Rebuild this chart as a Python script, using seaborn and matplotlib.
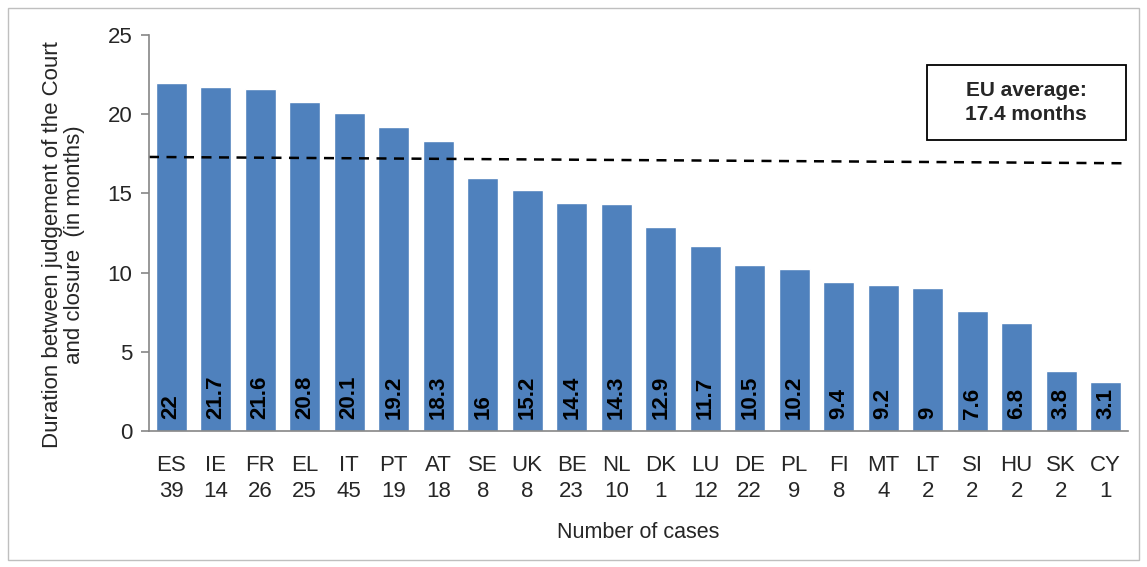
import matplotlib
matplotlib.use("Agg")
import matplotlib.pyplot as plt
import numpy as np
import pandas as pd
import seaborn as sns
from matplotlib.patches import Rectangle

# data
countries = ["ES", "IE", "FR", "EL", "IT", "PT", "AT", "SE", "UK", "BE", "NL",
             "DK", "LU", "DE", "PL", "FI", "MT", "LT", "SI", "HU", "SK", "CY"]
cases = [39, 14, 26, 25, 45, 19, 18, 8, 8, 23, 10, 1, 12, 22, 9, 8, 4, 2, 2, 2, 2, 1]
months = [22, 21.7, 21.6, 20.8, 20.1, 19.2, 18.3, 16, 15.2, 14.4, 14.3, 12.9,
          11.7, 10.5, 10.2, 9.4, 9.2, 9, 7.6, 6.8, 3.8, 3.1]
value_labels = ["22", "21.7", "21.6", "20.8", "20.1", "19.2", "18.3", "16", "15.2",
                "14.4", "14.3", "12.9", "11.7", "10.5", "10.2", "9.4", "9.2", "9",
                "7.6", "6.8", "3.8", "3.1"]
avg_line = [17.3, 16.9]   # dashed line drawn slightly sloping in the original
avg_text = "EU average:\n17.4 months"

sns.set_style("white")
plt.rcParams["font.family"] = ["Liberation Sans", "DejaVu Sans"]

df = pd.DataFrame({"label": [f"{c}\n{n}" for c, n in zip(countries, cases)],
                   "months": months})

fig = plt.figure(figsize=(11.47, 5.67), dpi=100)
ax = fig.add_axes([0.1299, 0.2399, 0.8535, 0.6984])

sns.barplot(data=df, x="label", y="months", color="#4F81BD", saturation=1,
            width=0.69, ax=ax)

# value labels inside the bars, rotated
for i, txt in enumerate(value_labels):
    ax.text(i, 0.75, txt, rotation=90, ha="center", va="bottom",
            fontsize=16, fontweight="bold", color="black")

n = len(countries)
ax.plot([-0.5, n - 0.5], avg_line, color="black", lw=1.8, ls=(0, (4, 3)))

ax.set_xlim(-0.5, n - 0.5)
ax.set_ylim(0, 25)
ax.set_yticks([0, 5, 10, 15, 20, 25])

# ticks between categories
ax.set_xticks(np.arange(n), minor=False)
ax.set_xticklabels(df["label"], linespacing=1.35)
ax.tick_params(axis="x", length=0, pad=17, labelsize=16)
ax.set_xticks(np.arange(-0.5, n, 1), minor=True)
ax.tick_params(axis="x", which="minor", length=6, color="#868686", width=1.2)
ax.tick_params(axis="y", length=6, color="#868686", width=1.2, labelsize=16, pad=6,
               left=True)

for s in ["top", "right"]:
    ax.spines[s].set_visible(False)
for s in ["left", "bottom"]:
    ax.spines[s].set_color("#868686")
    ax.spines[s].set_linewidth(1.2)

ax.set_xlabel("Number of cases", fontsize=15.5, labelpad=14)
ax.set_ylabel("Duration between judgement of the Court\nand closure  (in months)",
              fontsize=16, labelpad=16, linespacing=1.1, y=0.47)

# EU average box
fig.patches.append(Rectangle((0.808, 0.753), 0.1735, 0.132, transform=fig.transFigure,
                             fill=False, ec="black", lw=1.3))
fig.text(0.8948, 0.819, avg_text, ha="center", va="center", multialignment="center",
         fontsize=15, fontweight="bold", linespacing=1.35)

fig.patches.append(Rectangle((0.007, 0.012), 0.986, 0.974, transform=fig.transFigure,
                             fill=False, ec="#BFBFBF", lw=1))

fig.savefig("out.png", dpi=100)
